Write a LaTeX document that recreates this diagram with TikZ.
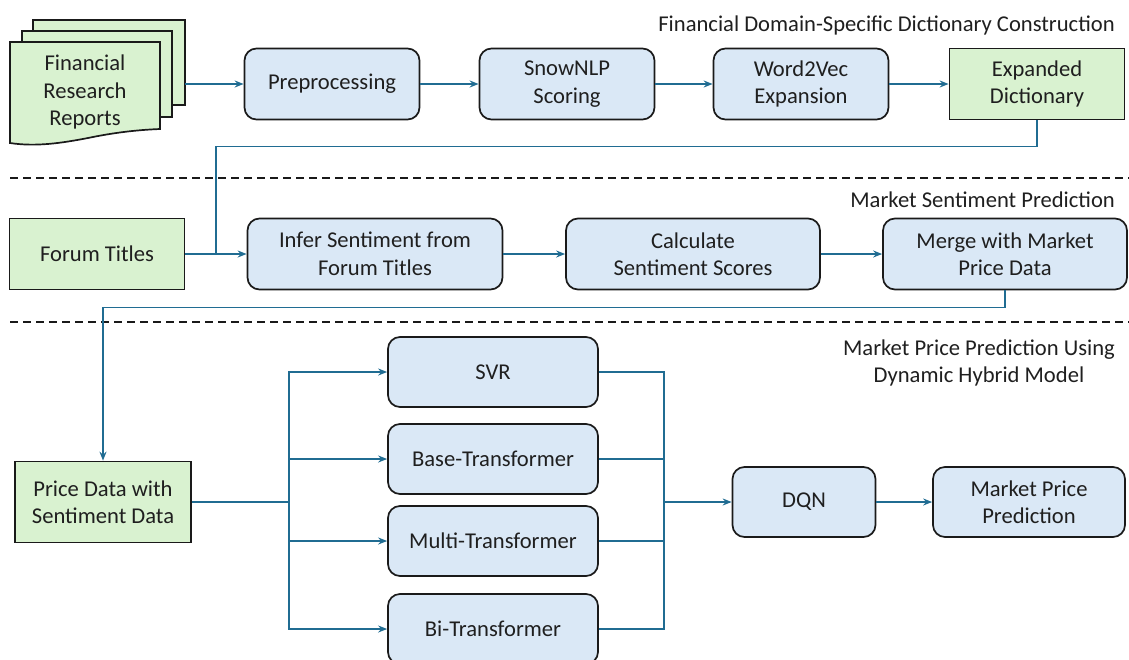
\documentclass[tikz,border=0pt]{standalone}
\usepackage{fontspec}
\setmainfont{Carlito}
\usepackage{tikz}
\usetikzlibrary{arrows.meta}
\usepackage{xcolor}
\definecolor{boxblue}{RGB}{218,232,246}
\definecolor{boxgreen}{RGB}{217,242,208}
\definecolor{linkblue}{RGB}{32,108,146}
\definecolor{edgegray}{RGB}{26,26,26}

\begin{document}
\begin{tikzpicture}[x=1pt, y=-1pt, >={Stealth[length=9pt,width=7pt]},
  every node/.style={font=\fontsize{22.6}{27.5}\selectfont, text=black!88, align=center},
  stage/.style={draw=edgegray, line width=1.7pt, fill=boxblue, rounded corners=12pt, inner sep=0pt},
  source/.style={draw=edgegray, line width=1.7pt, fill=boxgreen, inner sep=0pt},
  link/.style={draw=linkblue, line width=1.6pt},
  divider/.style={draw=black!90, line width=1.6pt, dash pattern=on 8pt off 5pt},
  heading/.style={anchor=east, inner sep=0pt}]
\clip (0,0) rectangle (1129,659);

% stacked report pages
\draw[fill=boxgreen, draw=edgegray, line width=1.7pt] (33,20) rectangle (185,105);
\draw[fill=boxgreen, draw=edgegray, line width=1.7pt] (22,31) rectangle (172,117);
\draw[fill=boxgreen, draw=edgegray, line width=1.7pt] (10,42) -- (160,42) -- (160,129)
  .. controls (135,130) and (112,133) .. (88,138)
  .. controls (62,143) and (36,147) .. (10,143) -- cycle;
\node (reports) at (85,92) {Financial\\Research\\Reports};
\coordinate (reportsout) at (185,84);

% dictionary construction
\node[stage, minimum width=175pt, minimum height=71pt] (prep) at (332,84) {Preprocessing};
\node[stage, minimum width=175pt, minimum height=71pt] (snow) at (567,84) {SnowNLP\\Scoring};
\node[stage, minimum width=175pt, minimum height=71pt] (w2v) at (801,84) {Word2Vec\\Expansion};
\node[source, minimum width=175pt, minimum height=71pt] (dict) at (1037,84) {Expanded\\Dictionary};

% sentiment prediction
\node[source, minimum width=175pt, minimum height=71pt] (forum) at (97,254) {Forum Titles};
\node[stage, minimum width=255pt, minimum height=71pt] (infer) at (375,254) {Infer Sentiment from\\Forum Titles};
\node[stage, minimum width=254pt, minimum height=71pt] (calc) at (693,254) {Calculate\\Sentiment Scores};
\node[stage, minimum width=244pt, minimum height=71pt] (merge) at (1005,254) {Merge with Market\\Price Data};

% hybrid model
\node[source, minimum width=176pt, minimum height=81pt] (price) at (103,502) {Price Data with\\Sentiment Data};
\node[stage, minimum width=210pt, minimum height=70pt] (svr) at (493,372) {SVR};
\node[stage, minimum width=210pt, minimum height=70pt] (base) at (493,459) {Base-Transformer};
\node[stage, minimum width=210pt, minimum height=70pt] (multi) at (493,541) {Multi-Transformer};
\node[stage, minimum width=210pt, minimum height=70pt] (bi) at (493,629) {Bi-Transformer};
\node[stage, minimum width=143pt, minimum height=70pt] (dqn) at (804,502) {DQN};
\node[stage, minimum width=192pt, minimum height=70pt] (result) at (1029,502) {Market Price\\Prediction};

% section titles and dividers
\node[heading] (t1) at (1115,25) {Financial Domain-Specific Dictionary Construction};
\node[heading] (t2) at (1115,200) {Market Sentiment Prediction};
\node[heading] (t3) at (1115,363) {Market Price Prediction Using\\Dynamic Hybrid Model};
\draw[divider] (10,178) -- (1129,178);
\draw[divider] (10,322) -- (1129,322);

% connectors
\draw[link, ->] (reportsout) -- (prep);
\draw[link, ->] (prep) -- (snow);
\draw[link, ->] (snow) -- (w2v);
\draw[link, ->] (w2v) -- (dict);
\coordinate (dictjoin) at (216,254);
\draw[link] (dict.south) -- ++(0,26) -| (dictjoin);
\draw[link, ->] (forum) -- (infer);
\draw[link, ->] (infer) -- (calc);
\draw[link, ->] (calc) -- (merge);
\draw[link, ->] (merge.south) -- ++(0,17) -| (price.north);

\coordinate (fork) at (289,502);
\coordinate (gather) at (664,502);
\draw[link] (price.east) -- (fork);
\foreach \m in {svr,base,multi,bi} {
  \draw[link, ->] (fork) |- (\m.west);
  \draw[link] (\m.east) -| (gather);
}
\draw[link, ->] (gather) -- (dqn.west);
\draw[link, ->] (dqn) -- (result);
\end{tikzpicture}
\end{document}
